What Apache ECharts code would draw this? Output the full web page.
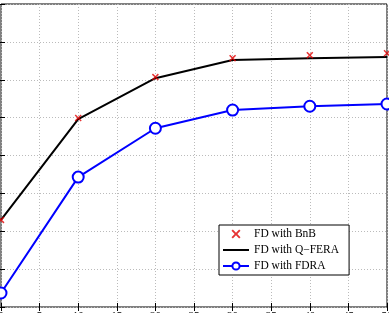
<!DOCTYPE html>
<html>
<head>
<meta charset="utf-8">
<script src="https://cdn.jsdelivr.net/npm/echarts@6/dist/echarts.min.js"></script>
<style>
  html, body { margin: 0; padding: 0; background: #fff; }
  #chart { width: 389px; height: 313px; }
</style>
</head>
<body>
<div id="chart"></div>
<script>
// x positions of the points
var xValues = [0, 10, 20, 30, 40, 50];
// series values
var bnbValues = [2.30, 4.99, 6.07, 6.57, 6.65, 6.70];
var qferaValues = [2.30, 4.96, 6.04, 6.52, 6.57, 6.60];
var fdraValues = [0.37, 3.43, 4.72, 5.20, 5.30, 5.36];

function pairs(ys) {
  return xValues.map(function (x, i) { return [x, ys[i]]; });
}

// thick x marker
var crossPath = "path://M0,1.5L1.5,0L5,3.5L8.5,0L10,1.5L6.5,5L10,8.5L8.5,10L5,6.5L1.5,10L0,8.5L3.5,5Z";
var fontName = "Liberation Serif";

var chart = echarts.init(document.getElementById("chart"));

var option = {
  animation: false,
  backgroundColor: "#fff",
  grid: {
    left: 1,
    right: 2,
    top: 4,
    bottom: 6,
    containLabel: false,
    outerBoundsMode: "none",
    show: true,
    borderColor: "#000",
    borderWidth: 1,
  },
  legend: {
    orient: "vertical",
    left: 219,
    top: 225,
    width: 129,
    backgroundColor: "#fff",
    borderColor: "#000",
    borderWidth: 1,
    padding: [3, 10, 3, 3],
    itemGap: 4,
    itemWidth: 26,
    itemHeight: 9,
    textStyle: { fontFamily: fontName, fontSize: 11.5, color: "#000" },
    data: [
      { name: "FD with BnB" },
      { name: "FD with Q\u2212FERA", itemStyle: { opacity: 0 } },
      { name: "FD with FDRA" },
    ],
  },
  xAxis: [
    {
      type: "value",
      min: 0,
      max: 50,
      interval: 5,
      axisLine: { show: false },
      axisTick: { inside: true, length: 4, lineStyle: { color: "#000" } },
      axisLabel: { margin: 4, fontFamily: fontName, fontSize: 11, color: "#000" },
      splitLine: { lineStyle: { color: "#bbb", type: [1, 2] } },
    },
    {
      type: "value",
      position: "top",
      min: 0,
      max: 50,
      interval: 5,
      axisLine: { show: false },
      axisTick: { inside: true, length: 4, lineStyle: { color: "#000" } },
      axisLabel: { show: false },
      splitLine: { show: false },
    },
  ],
  yAxis: [
    {
      type: "value",
      min: 0,
      max: 8,
      interval: 1,
      axisLine: { show: false },
      axisTick: { inside: true, length: 4, lineStyle: { color: "#000" } },
      axisLabel: { fontFamily: fontName, fontSize: 11, color: "#000" },
      splitLine: { lineStyle: { color: "#bbb", type: [1, 2] } },
    },
    {
      type: "value",
      position: "right",
      min: 0,
      max: 8,
      interval: 1,
      axisLine: { show: false },
      axisTick: { inside: true, length: 4, lineStyle: { color: "#000" } },
      axisLabel: { show: false },
      splitLine: { show: false },
    },
  ],
  series: [
    {
      name: "FD with BnB",
      type: "scatter",
      data: pairs(bnbValues),
      symbol: crossPath,
      symbolSize: 7,
      itemStyle: { color: "#e00000" },
      z: 5,
    },
    {
      name: "FD with Q\u2212FERA",
      type: "line",
      data: pairs(qferaValues),
      symbol: "none",
      lineStyle: { color: "#000", width: 2 },
      itemStyle: { color: "#000" },
      z: 3,
    },
    {
      name: "FD with FDRA",
      type: "line",
      data: pairs(fdraValues),
      symbol: "circle",
      symbolSize: 11,
      showAllSymbol: true,
      lineStyle: { color: "#0000ff", width: 2 },
      itemStyle: { color: "#fff", borderColor: "#0000ff", borderWidth: 2 },
      z: 4,
    },
  ],
};
chart.setOption(option);
</script>
</body>
</html>
